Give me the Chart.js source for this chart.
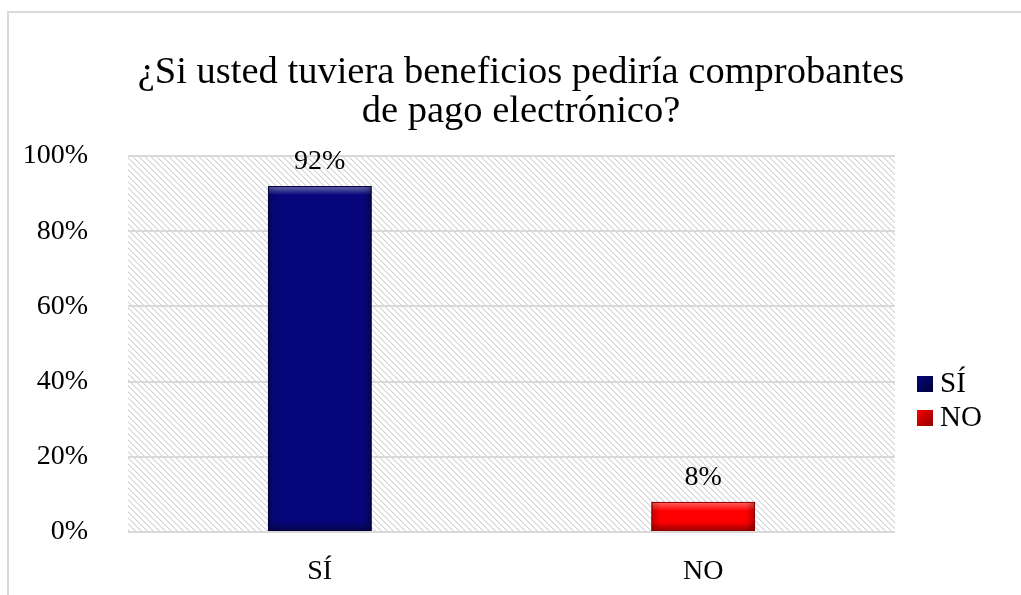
<!DOCTYPE html>
<html>
<head>
<meta charset="utf-8">
<script src="https://cdn.jsdelivr.net/npm/chart.js@4"></script>
<style>
  html, body { margin: 0; padding: 0; background: #fff; }
  #wrap { position: relative; width: 1021px; height: 595px; }
</style>
</head>
<body>
<div id="wrap"><canvas id="chart" width="1021" height="595"></canvas></div>
<script>
// survey answers, percent of respondents
const categories = ['SÍ', 'NO'];
const shares = [92, 8];
const yTickMax = 100;
const yTickStep = 20;
const titleLines = ['¿Si usted tuviera beneficios pediría comprobantes', 'de pago electrónico?'];

const barColors = ['#06067a', '#ff0000'];
const barEdges = ['#00003a', '#8c0000'];
const serif = '"Liberation Serif", "Times New Roman", serif';

// diagonal hatch used behind the plot
function makeHatch() {
    const c = document.createElement('canvas');
    c.width = 6; c.height = 6;
    const g = c.getContext('2d');
    g.fillStyle = '#fff';
    g.fillRect(0, 0, 6, 6);
    for (let i = 0; i < 6; i++) {
        g.fillStyle = '#d2d2d2';
        g.fillRect(i, i, 1, 1);
        g.fillStyle = '#ececec';
        g.fillRect((i + 1) % 6, i, 1, 1);
    }
    return c;
}

const frame = {
    id: 'frame',
    beforeDraw(chart) {
        const ctx = chart.ctx, a = chart.chartArea;
        ctx.save();
        ctx.fillStyle = '#fff';
        ctx.fillRect(0, 0, chart.width, chart.height);
        // outer border (top and left only fall inside the view)
        ctx.strokeStyle = '#d9d9d9';
        ctx.lineWidth = 2;
        ctx.beginPath();
        ctx.moveTo(8, chart.height);
        ctx.lineTo(8, 12);
        ctx.lineTo(chart.width, 12);
        ctx.stroke();
        ctx.fillStyle = ctx.createPattern(makeHatch(), 'repeat');
        ctx.fillRect(a.left, a.top, a.right - a.left, a.bottom - a.top);
        // title
        ctx.fillStyle = '#000';
        ctx.font = '38.5px ' + serif;
        ctx.textAlign = 'center';
        ctx.textBaseline = 'alphabetic';
        titleLines.forEach((t, i) => ctx.fillText(t, 521, 83 + i * 39));
        ctx.restore();
    }
};

// bevel shading, value labels and the side legend
const bevel = {
    id: 'bevel',
    afterDatasetsDraw(chart) {
        const ctx = chart.ctx;
        const meta = chart.getDatasetMeta(0);
        ctx.save();
        meta.data.forEach((bar, i) => {
            const l = bar.x - bar.width / 2, r = bar.x + bar.width / 2;
            const t = bar.y, b = bar.base, h = b - t;
            const e = Math.min(9, h / 3);
            let gr = ctx.createLinearGradient(0, t, 0, t + e);
            gr.addColorStop(0, 'rgba(255,255,255,0.4)');
            gr.addColorStop(1, 'rgba(255,255,255,0)');
            ctx.fillStyle = gr;
            ctx.fillRect(l, t, r - l, e);
            gr = ctx.createLinearGradient(0, b - e, 0, b);
            gr.addColorStop(0, 'rgba(0,0,0,0)');
            gr.addColorStop(1, 'rgba(0,0,0,0.4)');
            ctx.fillStyle = gr;
            ctx.fillRect(l, b - e, r - l, e);
            gr = ctx.createLinearGradient(l, 0, l + e, 0);
            gr.addColorStop(0, 'rgba(0,0,0,0.2)');
            gr.addColorStop(1, 'rgba(0,0,0,0)');
            ctx.fillStyle = gr;
            ctx.fillRect(l, t, e, h);
            gr = ctx.createLinearGradient(r - e, 0, r, 0);
            gr.addColorStop(0, 'rgba(0,0,0,0)');
            gr.addColorStop(1, 'rgba(0,0,0,0.3)');
            ctx.fillStyle = gr;
            ctx.fillRect(r - e, t, e, h);
            ctx.strokeStyle = barEdges[i];
            ctx.lineWidth = 1;
            ctx.strokeRect(l + 0.5, t + 0.5, r - l - 1, h - 1);

            ctx.fillStyle = '#000';
            ctx.font = '28px ' + serif;
            ctx.textAlign = 'center';
            ctx.textBaseline = 'alphabetic';
            ctx.fillText(shares[i] + '%', bar.x, t - 17);
        });

        const a = chart.chartArea;
        categories.forEach((c, i) => {
            const y = 376 + i * 34;
            const x = a.right + 22;
            const gr = ctx.createLinearGradient(x, y, x + 16, y + 16);
            gr.addColorStop(0, barColors[i]);
            gr.addColorStop(1, barEdges[i]);
            ctx.fillStyle = gr;
            ctx.fillRect(x, y, 16, 16);
            ctx.fillStyle = '#000';
            ctx.font = '29px ' + serif;
            ctx.textAlign = 'left';
            ctx.textBaseline = 'alphabetic';
            ctx.fillText(c, x + 23, y + 16);
        });
        ctx.restore();
    }
};

new Chart(document.getElementById('chart'), {
    type: 'bar',
    data: {
        labels: categories,
        datasets: [{
            label: 'Respuestas',
            data: shares,
            backgroundColor: barColors,
            borderWidth: 0,
            categoryPercentage: 0.27,
            barPercentage: 1
        }]
    },
    options: {
        responsive: false,
        animation: false,
        layout: { padding: { top: 156, right: 126, left: 0, bottom: 0 } },
        scales: {
            x: {
                grid: { display: false },
                border: { display: false },
                ticks: {
                    color: '#000',
                    font: { family: serif, size: 28 },
                    padding: 15
                },
                afterFit(scale) { scale.height = 63; }
            },
            y: {
                min: 0,
                max: yTickMax,
                grid: { color: '#d9d9d9', lineWidth: 2, drawTicks: false },
                border: { display: false },
                ticks: {
                    stepSize: yTickStep,
                    color: '#000',
                    font: { family: serif, size: 28 },
                    padding: 40,
                    callback: v => v + '%'
                },
                afterFit(scale) { scale.width = 128; }
            }
        },
        plugins: {
            legend: { display: false },
            title: { display: false },
            tooltip: { enabled: false }
        }
    },
    plugins: [frame, bevel]
});
</script>
</body>
</html>
